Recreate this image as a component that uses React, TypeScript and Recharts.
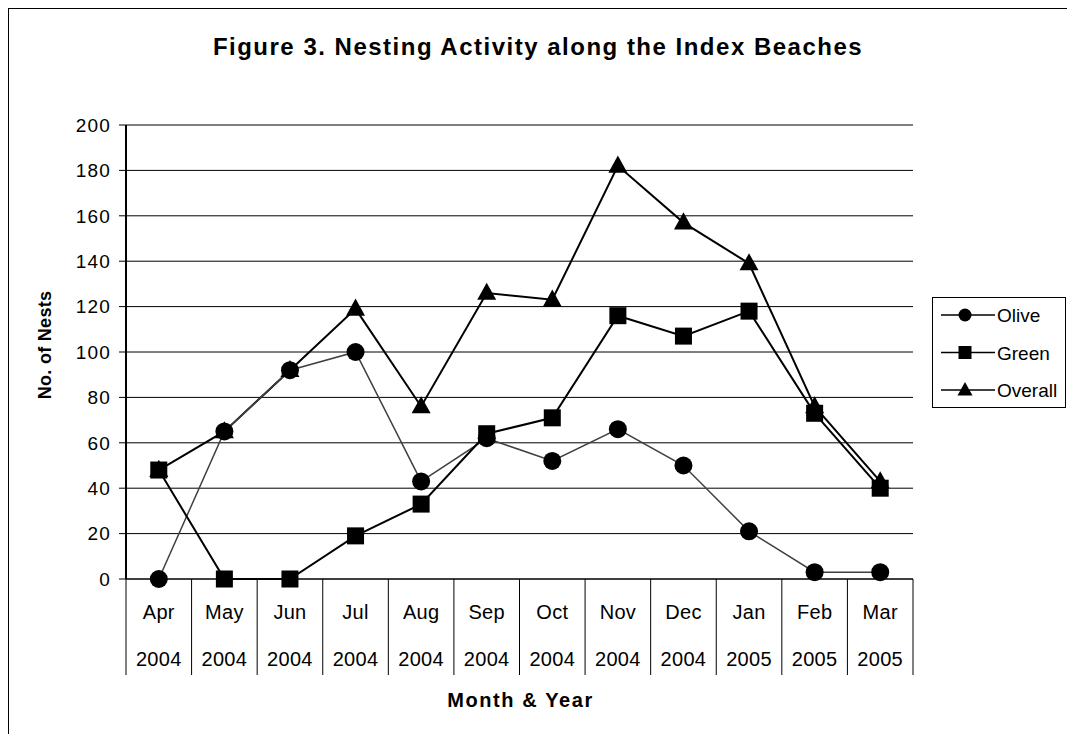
import { LineChart, Line, XAxis, YAxis, CartesianGrid, Legend } from 'recharts'

const months = ['Apr', 'May', 'Jun', 'Jul', 'Aug', 'Sep', 'Oct', 'Nov', 'Dec', 'Jan', 'Feb', 'Mar']
const years = ['2004', '2004', '2004', '2004', '2004', '2004', '2004', '2004', '2004', '2005', '2005', '2005']
const olive = [0, 65, 92, 100, 43, 62, 52, 66, 50, 21, 3, 3]
const green = [48, 0, 0, 19, 33, 64, 71, 116, 107, 118, 73, 40]
const overall = [48, 65, 92, 119, 76, 126, 123, 182, 157, 139, 76, 43]
const yTicks = [0, 20, 40, 60, 80, 100, 120, 140, 160, 180, 200]

const data = months.map((m, i) => ({
  month: m,
  year: years[i],
  olive: olive[i],
  green: green[i],
  overall: overall[i],
}))

const FONT = "Arial, 'Liberation Sans', sans-serif"
const W = 1058
const H = 725
const PLOT_LEFT = 117
const PLOT_TOP = 116
const PLOT_RIGHT = 904
const PLOT_BOTTOM = 570
const BAND = (PLOT_RIGHT - PLOT_LEFT) / months.length

// recharts hands its own r to dots, so the size lives under a different name
const CircleDot = ({ cx, cy, radius = 9 }: any) =>
  cx == null ? null : <circle cx={cx} cy={cy} r={radius} fill="#000" />

const SquareDot = ({ cx, cy, s = 17 }: any) =>
  cx == null ? null : <rect x={cx - s / 2} y={cy - s / 2} width={s} height={s} fill="#000" />

const TriangleDot = ({ cx, cy, s = 19 }: any) => {
  if (cx == null) return null
  const h = s * 0.9
  return (
    <polygon
      points={`${cx},${cy - h * 0.6} ${cx + s / 2},${cy + h * 0.4} ${cx - s / 2},${cy + h * 0.4}`}
      fill="#000"
    />
  )
}

const MonthYearTick = (props: any) => {
  const { x, index, payload } = props
  const half = BAND / 2
  return (
    <g>
      <text x={x} y={610} textAnchor="middle" fontSize={20} letterSpacing={0.3} fontFamily={FONT} fill="#000">
        {payload.value}
      </text>
      <text x={x} y={656.5} textAnchor="middle" fontSize={20} letterSpacing={0.3} fontFamily={FONT} fill="#000">
        {years[index]}
      </text>
      <line x1={x - half} x2={x - half} y1={PLOT_BOTTOM} y2={666} stroke="#000" />
      {index === months.length - 1 && (
        <line x1={x + half} x2={x + half} y1={PLOT_BOTTOM} y2={666} stroke="#000" />
      )}
    </g>
  )
}

const legendItems = ['Olive', 'Green', 'Overall']

const LegendBox = () => (
  <svg width={134} height={111}>
    <rect x={0.5} y={0.5} width={133} height={110} fill="#fff" stroke="#000" />
    {legendItems.map((label, i) => {
      const cy = 18 + i * 37.5
      return (
        <g key={label}>
          <line x1={9} x2={63} y1={cy} y2={cy} stroke="#000" strokeWidth={1.5} />
          {label === 'Olive' && <CircleDot cx={33} cy={cy} radius={6.5} />}
          {label === 'Green' && <SquareDot cx={33} cy={cy} s={13} />}
          {label === 'Overall' && <TriangleDot cx={33} cy={cy} s={15} />}
          <text x={65} y={cy + 7} fontSize={19} fontFamily={FONT} fill="#000">
            {label}
          </text>
        </g>
      )
    })}
  </svg>
)

export default function App() {
  return (
    <div
      style={{
        position: 'fixed',
        left: 8,
        top: 8,
        width: W,
        height: H,
        borderTop: '1px solid #000',
        borderLeft: '1px solid #000',
        background: '#fff',
        fontFamily: FONT,
      }}
    >
      <div
        style={{
          position: 'absolute',
          left: 0,
          top: 24,
          width: W,
          textAlign: 'center',
          fontSize: 24,
          fontWeight: 'bold',
          lineHeight: '28px',
          letterSpacing: 1.5,
        }}
      >
        Figure 3. Nesting Activity along the Index Beaches
      </div>
      <LineChart
        width={W}
        height={H}
        data={data}
        margin={{ top: PLOT_TOP, right: W - PLOT_RIGHT, left: 0, bottom: 0 }}
        style={{ position: 'absolute', left: 0, top: 0 }}
      >
        <CartesianGrid vertical={false} stroke="#000" strokeWidth={1} />
        <XAxis
          dataKey="month"
          scale="band"
          height={H - PLOT_BOTTOM}
          tickLine={false}
          axisLine={{ stroke: '#000' }}
          tick={<MonthYearTick />}
          interval={0}
          label={{
            content: () => (
              <text x={(PLOT_LEFT + PLOT_RIGHT) / 2 + 1} y={698} textAnchor="middle" fontSize={20} fontWeight="bold" letterSpacing={1.6} fontFamily={FONT} fill="#000">
                Month &amp; Year
              </text>
            ),
          }}
        />
        <YAxis
          width={PLOT_LEFT}
          domain={[0, 200]}
          ticks={yTicks}
          interval={0}
          tickSize={7}
          tickMargin={8}
          axisLine={{ stroke: '#000', strokeWidth: 2 }}
          tickLine={{ stroke: '#000' }}
          tick={{ fontSize: 19, fill: '#000', fontFamily: FONT, letterSpacing: 1.2 }}
          label={{
            content: () => (
              <text x={36} y={336} transform="rotate(-90 36 336)" textAnchor="middle" dominantBaseline="central" fontSize={18} fontWeight="bold" letterSpacing={0.3} fontFamily={FONT} fill="#000">
                No. of Nests
              </text>
            ),
          }}
        />
        <YAxis
          yAxisId="right"
          orientation="right"
          width={0}
          domain={[0, 200]}
          tick={false}
          tickLine={false}
          axisLine={{ stroke: '#808080' }}
        />
        <Legend
          layout="horizontal"
          align="center"
          verticalAlign="middle"
          wrapperStyle={{ left: 923, top: 288, width: 134, height: 111 }}
          content={() => <LegendBox />}
        />
        <Line
          dataKey="overall"
          name="Overall"
          stroke="#000"
          strokeWidth={2}
          dot={<TriangleDot />}
          activeDot={false}
          isAnimationActive={false}
        />
        <Line
          dataKey="olive"
          name="Olive"
          stroke="#404040"
          strokeWidth={1.5}
          dot={<CircleDot />}
          activeDot={false}
          isAnimationActive={false}
        />
        <Line
          dataKey="green"
          name="Green"
          stroke="#000"
          strokeWidth={2}
          dot={<SquareDot />}
          activeDot={false}
          isAnimationActive={false}
        />
      </LineChart>
    </div>
  )
}
